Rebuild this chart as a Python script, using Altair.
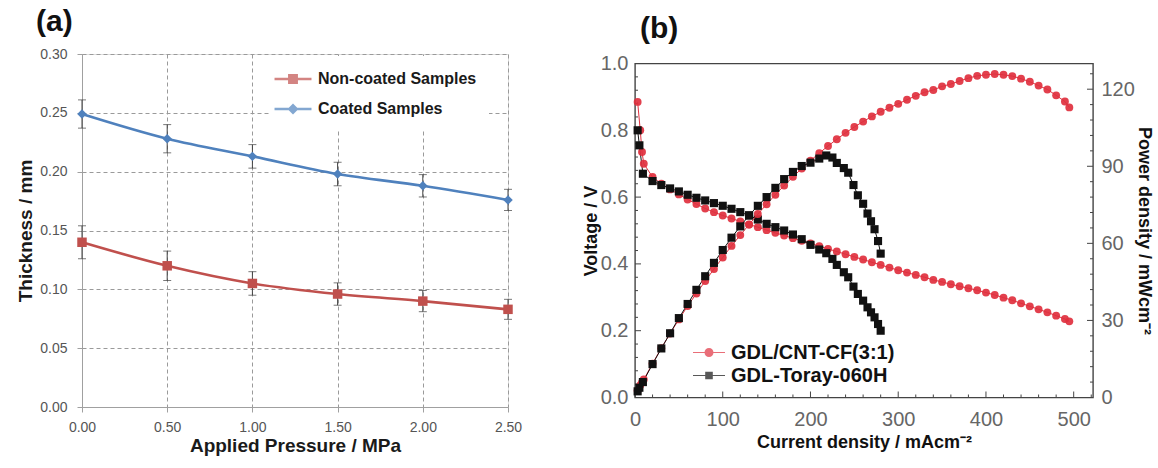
import altair as alt
import pandas as pd

# ---------------- panel (a): thickness under compression ----------------
pressure = [0.0, 0.5, 1.0, 1.5, 2.0, 2.5]
noncoated = [0.140, 0.120, 0.105, 0.096, 0.090, 0.083]
noncoated_err = [0.014, 0.0125, 0.010, 0.0095, 0.009, 0.0085]
coated = [0.249, 0.228, 0.213, 0.198, 0.188, 0.176]
coated_err = [0.012, 0.012, 0.010, 0.010, 0.0095, 0.009]
series_a = ["Non-coated Samples", "Coated Samples"]
colors_a = ["#C0504D", "#4F81BD"]
pressure_ticks = [0.0, 0.5, 1.0, 1.5, 2.0, 2.5]
thickness_ticks = [0.0, 0.05, 0.10, 0.15, 0.20, 0.25, 0.30]

# ---------------- panel (b): polarization / power density ----------------
cnt_current = [3, 6, 8, 10, 20, 30, 40, 50, 60, 70, 80, 90, 100, 110, 120, 130,
               140, 150, 160, 170, 180, 190, 200, 210, 220, 230, 240, 250, 260,
               270, 280, 290, 300, 310, 320, 330, 340, 350, 360, 370, 380, 390,
               400, 410, 420, 430, 440, 450, 460, 470, 480, 490, 495]
cnt_voltage = [0.885, 0.800, 0.735, 0.700, 0.660, 0.640, 0.623, 0.608, 0.593,
               0.579, 0.566, 0.555, 0.545, 0.536, 0.527, 0.518, 0.510, 0.501,
               0.493, 0.485, 0.477, 0.469, 0.461, 0.453, 0.445, 0.437, 0.429,
               0.421, 0.413, 0.405, 0.397, 0.389, 0.381, 0.374, 0.367, 0.360,
               0.352, 0.346, 0.339, 0.333, 0.327, 0.321, 0.314, 0.307, 0.299,
               0.291, 0.282, 0.273, 0.264, 0.255, 0.245, 0.235, 0.228]
cnt_power = [2.7, 4.8, 5.9, 7.0, 13.2, 19.2, 24.9, 30.4, 35.6, 40.5, 45.3, 50.0,
             54.5, 59.0, 63.2, 67.3, 71.4, 75.2, 78.9, 82.5, 85.9, 89.1, 92.2,
             95.1, 97.9, 100.5, 103.0, 105.3, 107.4, 109.4, 111.2, 112.8, 114.3,
             115.9, 117.4, 118.8, 119.7, 121.1, 122.0, 123.2, 124.3, 125.2,
             125.6, 125.9, 125.6, 125.1, 124.1, 122.9, 121.4, 119.9, 117.6,
             115.2, 112.9]

toray_current = [3, 5, 9, 20, 30, 40, 50, 60, 70, 80, 90, 100, 110, 120, 130,
                 140, 150, 160, 170, 180, 190, 200, 210, 218, 225, 230, 238, 243,
                 249, 254, 260, 265, 269, 273, 277, 280]
toray_voltage = [0.800, 0.755, 0.670, 0.648, 0.636, 0.626, 0.617, 0.607, 0.598,
                 0.590, 0.582, 0.574, 0.565, 0.555, 0.545, 0.533, 0.520, 0.510,
                 0.500, 0.488, 0.474, 0.457, 0.443, 0.432, 0.415, 0.397, 0.375,
                 0.360, 0.332, 0.310, 0.290, 0.270, 0.255, 0.240, 0.220, 0.200]
toray_power = [2.4, 3.8, 6.0, 13.0, 19.1, 25.0, 30.9, 36.4, 41.9, 47.2, 52.4,
               57.4, 62.2, 66.6, 70.9, 74.6, 78.0, 81.6, 85.0, 87.8, 90.1, 91.4,
               93.0, 94.2, 93.4, 91.3, 89.3, 87.5, 82.7, 78.7, 75.4, 71.6, 68.6,
               65.5, 60.9, 56.0]

series_b = ["GDL/CNT-CF(3:1)", "GDL-Toray-060H"]
colors_b = ["#E0303E", "#111111"]
current_ticks = [0, 100, 200, 300, 400, 500]
current_minor = [20, 40, 60, 80, 120, 140, 160, 180, 220, 240, 260, 280, 320,
                 340, 360, 380, 420, 440, 460, 480, 520]
voltage_ticks = [0.0, 0.2, 0.4, 0.6, 0.8, 1.0]
voltage_minor = [0.04, 0.08, 0.12, 0.16, 0.24, 0.28, 0.32, 0.36, 0.44, 0.48,
                 0.52, 0.56, 0.64, 0.68, 0.72, 0.76, 0.84, 0.88, 0.92, 0.96]
power_ticks = [0, 30, 60, 90, 120]
power_minor = [6, 12, 18, 24, 36, 42, 48, 54, 66, 72, 78, 84, 96, 102, 108,
               114, 126]

FONT = "Liberation Sans"

# legend glyphs: a short line with the marker drawn on it
LEG_SQUARE = ("M-1.68,-0.114 L1.68,-0.114 L1.68,0.114 L-1.68,0.114 Z "
              "M-0.45,-0.45 L0.45,-0.45 L0.45,0.45 L-0.45,0.45 Z")
LEG_DIAMOND = ("M-1.68,-0.114 L1.68,-0.114 L1.68,0.114 L-1.68,0.114 Z "
               "M0,-0.5 L0.5,0 L0,0.5 L-0.5,0 Z")
LEG_CIRCLE = ("M-1.6,-0.05 L1.6,-0.05 L1.6,0.05 L-1.6,0.05 Z "
              "M0.45,0 A0.45,0.45 0 1,1 -0.45,0 A0.45,0.45 0 1,1 0.45,0 Z")
LEG_SMALLSQ = ("M-1.6,-0.05 L1.6,-0.05 L1.6,0.05 L-1.6,0.05 Z "
               "M-0.38,-0.38 L0.38,-0.38 L0.38,0.38 L-0.38,0.38 Z")

# ======================= panel (a) =======================
W_A, H_A = 426, 353
rows_a = []
for name, vals, errs in [(series_a[0], noncoated, noncoated_err),
                         (series_a[1], coated, coated_err)]:
    for p, v, e in zip(pressure, vals, errs):
        rows_a.append({"series": name, "pressure": p, "thickness": v,
                       "lo": v - e, "hi": v + e})
df_a = pd.DataFrame(rows_a)

xa = alt.X("pressure:Q", scale=alt.Scale(domain=[0, 2.5], nice=False, zero=False),
           axis=alt.Axis(values=pressure_ticks, format=".2f", labelFlush=False,
                         title="Applied Pressure / MPa",
                         grid=True, gridDash=[4, 3], gridColor="#9a9a9a",
                         domainColor="#a0a0a0", tickColor="#a0a0a0", tickSize=5,
                         labelFont=FONT, labelFontSize=14, labelColor="#555555",
                         labelPadding=8, titleFont=FONT, titleFontSize=19,
                         titleFontWeight="bold", titleColor="#1a1a1a",
                         titlePadding=2))
ya = alt.Y("thickness:Q", scale=alt.Scale(domain=[0, 0.3], nice=False),
           axis=alt.Axis(values=thickness_ticks, format=".2f", labelFlush=False,
                         title="Thickness / mm",
                         grid=True, gridDash=[4, 3], gridColor="#9a9a9a",
                         domainColor="#a0a0a0", tickColor="#a0a0a0", tickSize=5,
                         labelFont=FONT, labelFontSize=14, labelColor="#555555",
                         labelPadding=10, titleFont=FONT, titleFontSize=19,
                         titleFontWeight="bold", titleColor="#1a1a1a",
                         titlePadding=4))
color_a = alt.Color("series:N", scale=alt.Scale(domain=series_a, range=colors_a),
                    legend=None)

base_a = alt.Chart(df_a)
lines_a = base_a.mark_line(strokeWidth=2.6, interpolate="monotone").encode(
    x=xa, y=ya, color=color_a)
points_a = base_a.mark_point(filled=True, opacity=1, size=90).encode(
    x=xa, y=ya, color=color_a,
    shape=alt.Shape("series:N", scale=alt.Scale(domain=series_a,
                                                range=["square", "diamond"]),
                    legend=None))
err_a = base_a.mark_rule(color="#404040", strokeWidth=1).encode(
    x=xa, y=alt.Y("lo:Q"), y2="hi:Q")
cap_lo = base_a.mark_tick(color="#404040", thickness=1, size=8,
                          orient="horizontal").encode(x=xa, y=alt.Y("lo:Q"))
cap_hi = base_a.mark_tick(color="#404040", thickness=1, size=8,
                          orient="horizontal").encode(x=xa, y=alt.Y("hi:Q"))

legend_a_def = alt.Legend(orient="none", legendX=188, legendY=2, title=None,
                          fillColor="white", padding=12, rowPadding=11,
                          symbolSize=484, symbolStrokeWidth=0, labelOffset=14,
                          labelLimit=400, labelFont=FONT, labelFontSize=16,
                          labelFontWeight="bold", labelColor="#1a1a1a")
legend_a = base_a.mark_point(filled=True, size=484).encode(
    x=xa, y=ya,
    color=alt.Color("series:N", scale=alt.Scale(domain=series_a, range=colors_a),
                    legend=legend_a_def),
    shape=alt.Shape("series:N",
                    scale=alt.Scale(domain=series_a,
                                    range=[LEG_SQUARE, LEG_DIAMOND]),
                    legend=legend_a_def),
).transform_filter("false")

panel_a = alt.layer(lines_a, err_a, cap_lo, cap_hi, points_a, legend_a).resolve_scale(
    color="independent", shape="independent"
).properties(
    width=W_A, height=H_A,
    title=alt.TitleParams("(a)", anchor="start", frame="group", dx=-46,
                          offset=10, font=FONT, fontSize=30,
                          fontWeight="bold", color="#111111"),
)

# ======================= panel (b) =======================
W_B, H_B = 458, 334
rows_b = []
for name, cur, vol, pw in [(series_b[0], cnt_current, cnt_voltage, cnt_power),
                           (series_b[1], toray_current, toray_voltage, toray_power)]:
    for c, v, p in zip(cur, vol, pw):
        rows_b.append({"series": name, "current": c, "voltage": v, "power": p})
df_b = pd.DataFrame(rows_b)

xb = alt.X("current:Q", scale=alt.Scale(domain=[0, 522], nice=False),
           axis=alt.Axis(values=current_ticks, format="d", labelFlush=False,
                         title="Current density / mAcm\u207b\u00b2",
                         grid=False, ticks=False, domain=False,
                         labelFont=FONT, labelFontSize=20, labelColor="#666666",
                         labelPadding=12, titleFont=FONT, titleFontSize=18,
                         titleFontWeight="bold", titleColor="#111111",
                         titlePadding=4))
yv = alt.Y("voltage:Q", scale=alt.Scale(domain=[0, 1], nice=False),
           axis=alt.Axis(values=voltage_ticks, format=".1f", orient="left",
                         labelFlush=False, title="Voltage / V", grid=False,
                         ticks=False, domain=False, labelFont=FONT,
                         labelFontSize=20, labelColor="#666666", labelPadding=7,
                         titleFont=FONT, titleFontSize=18, titleFontWeight="bold",
                         titleColor="#111111", titlePadding=0))
yp = alt.Y("power:Q", scale=alt.Scale(domain=[0, 130], nice=False),
           axis=alt.Axis(values=power_ticks, format="d", orient="right",
                         labelFlush=False,
                         title="Power density / mWcm\u207b\u00b2", grid=False,
                         ticks=False, domain=False, labelFont=FONT,
                         labelFontSize=20, labelColor="#666666", labelPadding=8,
                         titleFont=FONT, titleFontSize=18, titleFontWeight="bold",
                         titleColor="#111111", titlePadding=0))
color_b = alt.Color("series:N", scale=alt.Scale(domain=series_b, range=colors_b),
                    legend=None)

base_b = alt.Chart(df_b)
cnt_only = alt.datum.series == series_b[0]
toray_only = alt.datum.series == series_b[1]


def curve_layers(y_enc):
    """Thin connecting lines plus circle / square markers for one quantity."""
    line = base_b.mark_line(strokeWidth=1).encode(
        x=xb, y=y_enc, color=color_b, order="current:Q")
    circles = base_b.transform_filter(cnt_only).mark_circle(
        size=62, opacity=0.92, color=colors_b[0]).encode(x=xb, y=y_enc)
    squares = base_b.transform_filter(toray_only).mark_square(
        size=66, opacity=1, color=colors_b[1]).encode(x=xb, y=y_enc)
    return [line, circles, squares]


v_major = alt.Chart(pd.DataFrame({"voltage": voltage_ticks})).mark_rule(
    color="#444444", strokeWidth=1).encode(y=yv, x=alt.value(0), x2=alt.value(6))
v_minor = alt.Chart(pd.DataFrame({"voltage": voltage_minor})).mark_rule(
    color="#444444", strokeWidth=1).encode(y=yv, x=alt.value(0), x2=alt.value(3))
c_major = alt.Chart(pd.DataFrame({"current": current_ticks})).mark_rule(
    color="#444444", strokeWidth=1).encode(x=xb, y=alt.value(H_B),
                                           y2=alt.value(H_B - 6))
c_minor = alt.Chart(pd.DataFrame({"current": current_minor})).mark_rule(
    color="#444444", strokeWidth=1).encode(x=xb, y=alt.value(H_B),
                                           y2=alt.value(H_B - 3))

legend_b_def = alt.Legend(orient="none", legendX=64, legendY=279, title=None,
                          padding=0, rowPadding=3, symbolSize=400,
                          symbolStrokeWidth=0, labelOffset=12, labelLimit=400,
                          labelFont=FONT, labelFontSize=20,
                          labelFontWeight="bold", labelColor="#111111")
legend_b = base_b.mark_point(filled=True, size=400).encode(
    x=xb, y=yv,
    color=alt.Color("series:N", scale=alt.Scale(domain=series_b, range=colors_b),
                    legend=legend_b_def),
    shape=alt.Shape("series:N",
                    scale=alt.Scale(domain=series_b,
                                    range=[LEG_CIRCLE, LEG_SMALLSQ]),
                    legend=legend_b_def),
).transform_filter("false")

voltage_group = alt.layer(v_minor, v_major, c_minor, c_major,
                          *curve_layers(yv), legend_b).resolve_scale(
    color="independent", shape="independent")

p_major = alt.Chart(pd.DataFrame({"power": power_ticks})).mark_rule(
    color="#444444", strokeWidth=1).encode(y=yp, x=alt.value(W_B),
                                           x2=alt.value(W_B - 6))
p_minor = alt.Chart(pd.DataFrame({"power": power_minor})).mark_rule(
    color="#444444", strokeWidth=1).encode(y=yp, x=alt.value(W_B),
                                           x2=alt.value(W_B - 3))
power_group = alt.layer(p_minor, p_major, *curve_layers(yp))

panel_b = alt.layer(voltage_group, power_group).resolve_scale(
    y="independent", color="independent", shape="independent"
).properties(
    width=W_B, height=H_B,
    view=alt.ViewBackground(stroke="#444444", strokeWidth=1.4),
    title=alt.TitleParams("(b)", anchor="start", frame="group", dx=5,
                          offset=10, font=FONT, fontSize=30,
                          fontWeight="bold", color="#111111"),
)

chart = alt.hconcat(panel_a, panel_b, spacing=127, center=True,
                    bounds="flush").properties(
    padding={"left": 16, "top": 6, "right": 0, "bottom": 0}
).configure_view(stroke=None).configure(background="white")

chart.save("out.html", embed_options={"renderer": "svg", "actions": False})
